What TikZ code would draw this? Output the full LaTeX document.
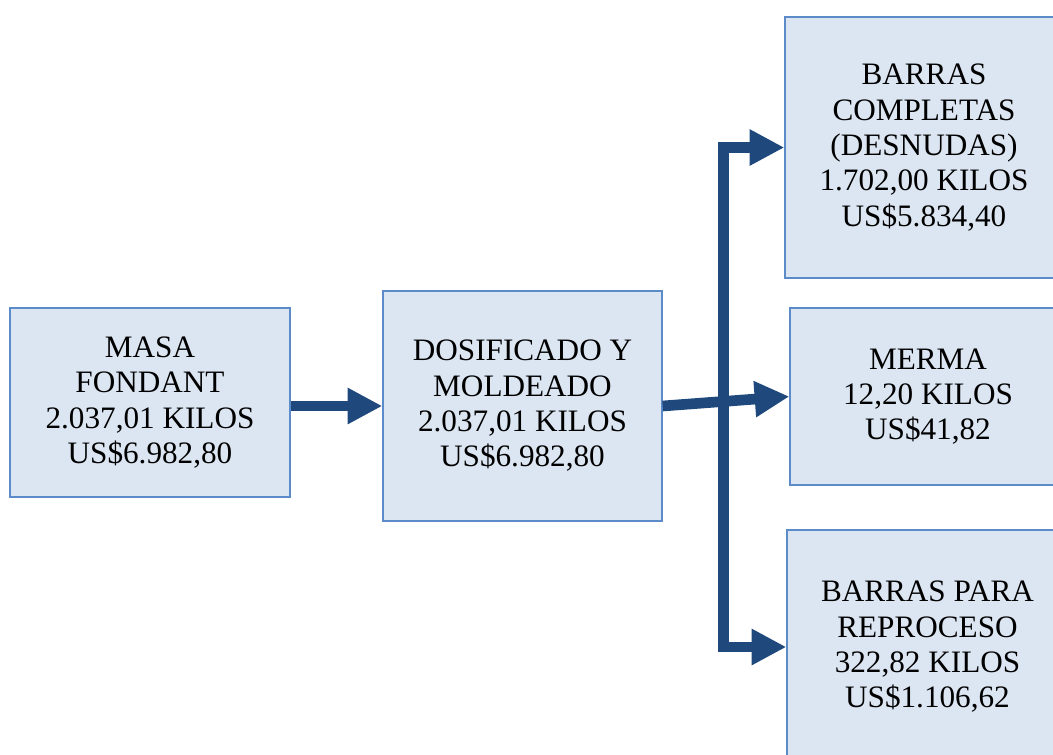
\documentclass[tikz,border=0pt]{standalone}
\usepackage{fontspec}
\setmainfont{Liberation Serif}
\usetikzlibrary{arrows.meta}
\definecolor{boxfill}{HTML}{DCE6F2}
\definecolor{boxline}{HTML}{5B8BC9}
\definecolor{flowblue}{HTML}{1F497D}
\begin{document}
\begin{tikzpicture}[x=0.75pt,y=-0.75pt,
   box/.style={draw=boxline,fill=boxfill,line width=1pt,inner sep=0pt,align=center,
     font=\rmfamily\fontsize{23.4}{26.5}\selectfont},
   flow/.style={color=flowblue,line width=8pt,line join=miter,
     arrows={-Triangle[length=26pt,width=25.5pt]}}]
   \useasboundingbox (0,0) rectangle (1053,754);
   \clip (0,0) rectangle (1053,754);

   \node (masa) [box,minimum width=210pt,minimum height=141.75pt] at (150,402.5)
     {MASA\\FONDANT\\2.037,01 KILOS\\US\$6.982,80};
   \node (dosif) [box,minimum width=209.25pt,minimum height=172.5pt] at (522.5,406)
     {DOSIFICADO Y\\MOLDEADO\\2.037,01 KILOS\\US\$6.982,80};
   \node (barras) [box,minimum width=208.5pt,minimum height=195.75pt] at (924,147.5)
     {BARRAS\\COMPLETAS\\(DESNUDAS)\\1.702,00 KILOS\\US\$5.834,40};
   \node (merma) [box,minimum width=207pt,minimum height=132.75pt] at (928,396.5)
     {MERMA\\12,20 KILOS\\US\$41,82};
   \node (repro) [box,minimum width=210.75pt,minimum height=175.5pt] at (927.5,647)
     {BARRAS PARA\\REPROCESO\\322,82 KILOS\\US\$1.106,62};
   \coordinate (split) at (723.5,406);

   \path[flow]
     (masa.east |- dosif.west) edge (dosif.west)
     (dosif.east) edge (merma.west);
   \draw[flow,arrows={Triangle[length=26pt,width=25.5pt]-Triangle[length=26pt,width=25.5pt]}]
     (barras.west) -| (split) |- (repro.west);
\end{tikzpicture}
\end{document}
